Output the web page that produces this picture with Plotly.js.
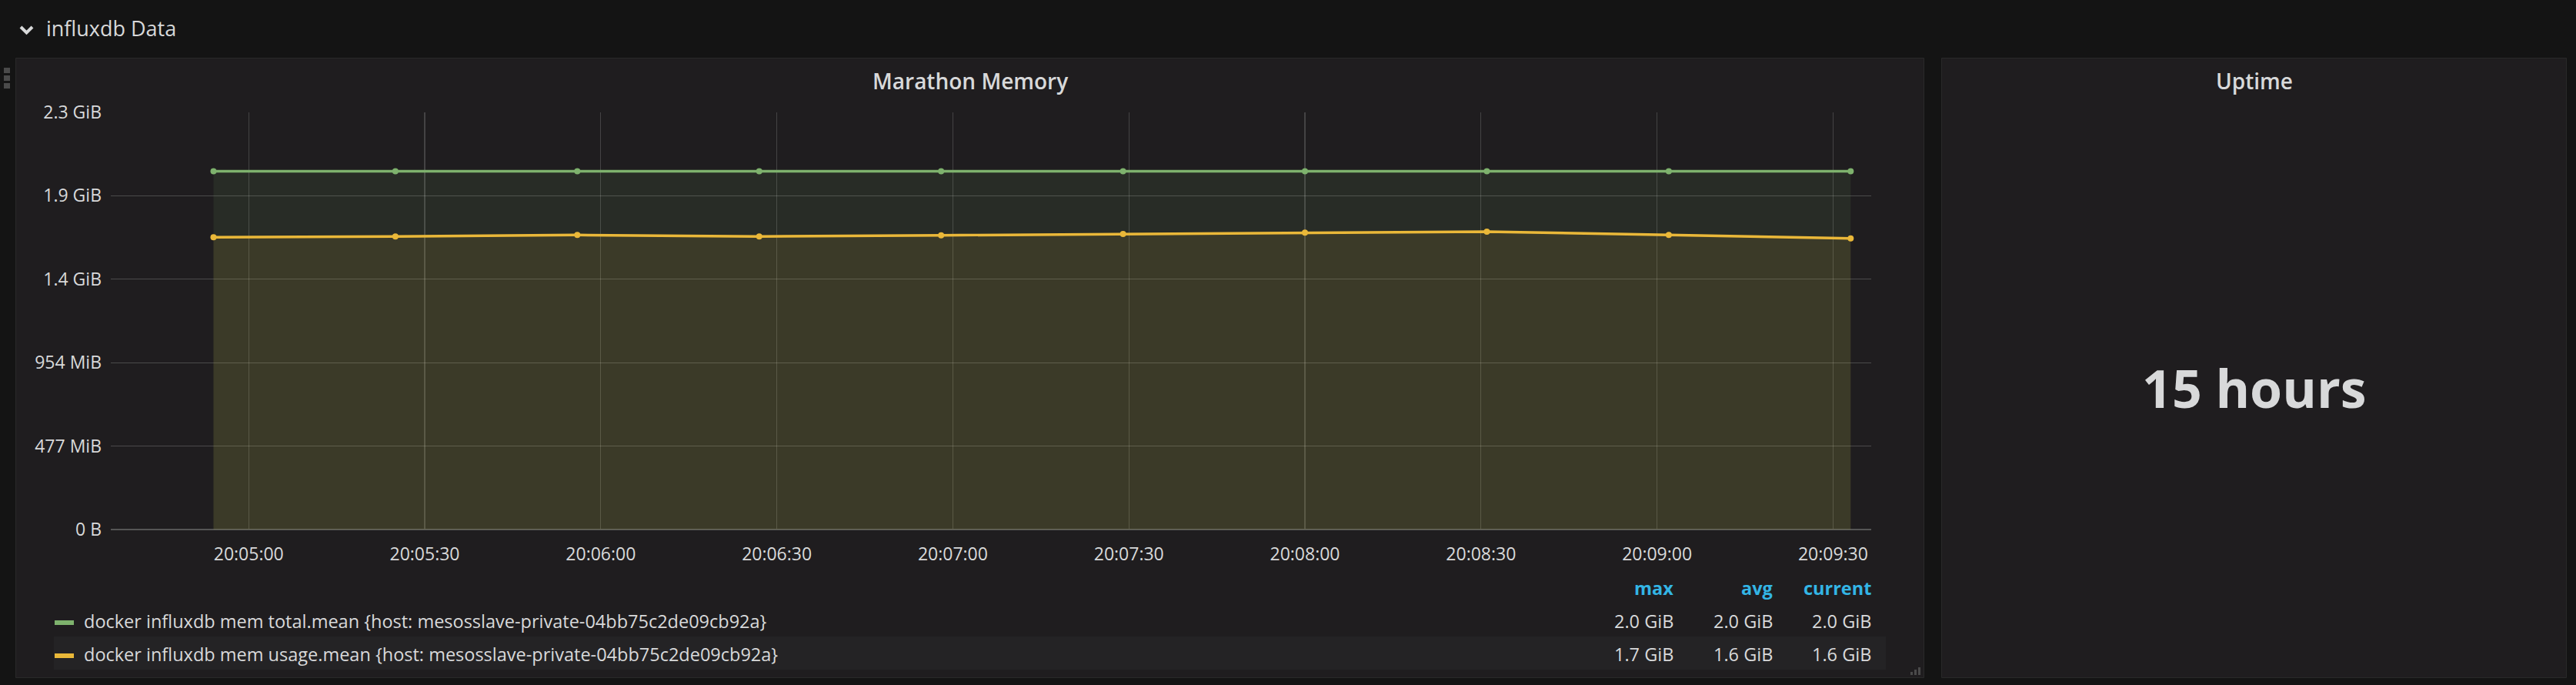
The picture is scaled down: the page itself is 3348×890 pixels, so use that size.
<!DOCTYPE html>
<html>
<head>
<meta charset="utf-8">
<script src="https://cdn.plot.ly/plotly-3.0.1.min.js"></script>
<style>
  html, body { margin: 0; padding: 0; background: #141414; }
  #chart { width: 3348px; height: 890px; }
</style>
</head>
<body>
<div id="chart"></div>
<script>
// ---------- data ----------
const times = [
  '2017-06-01 20:04:54', '2017-06-01 20:05:25', '2017-06-01 20:05:56',
  '2017-06-01 20:06:27', '2017-06-01 20:06:58', '2017-06-01 20:07:29',
  '2017-06-01 20:08:00', '2017-06-01 20:08:31', '2017-06-01 20:09:02',
  '2017-06-01 20:09:33'
];
const memTotal = [2147483648, 2147483648, 2147483648, 2147483648, 2147483648,
                  2147483648, 2147483648, 2147483648, 2147483648, 2147483648];
const memUsage = [1751400000, 1756000000, 1765200000, 1756000000, 1763400000,
                  1771200000, 1779100000, 1785100000, 1765200000, 1744900000];
const seriesNames = [
  'docker influxdb mem total.mean {host: mesosslave-private-04bb75c2de09cb92a}',
  'docker influxdb mem usage.mean {host: mesosslave-private-04bb75c2de09cb92a}'
];
const yTickVals = [0, 5e8, 1e9, 1.5e9, 2e9, 2.5e9];
const yTickText = ['0 B', '477 MiB', '954 MiB', '1.4 GiB', '1.9 GiB', '2.3 GiB'];
const xRange = ['2017-06-01 20:04:36.5', '2017-06-01 20:09:36.5'];
const legendCols = ['max', 'avg', 'current'];
const uptimeText = '15 hours';

// ---------- geometry helpers ----------
const W = 3348, H = 890;
const PL = 144, PR = 2432, PT = 146, PB = 688;
const pw = PR - PL, ph = PB - PT;
const px = x => (x - PL) / pw;
const py = y => (PB - y) / ph;

const TXT = '#d8d9da';
const FONT = 'Open Sans, Noto Sans, sans-serif';
const GREEN = '#7eb26d', YELLOW = '#eab839';

const fmtGiB = v => (v / 1073741824).toFixed(1) + ' GiB';
const stats = arr => [Math.max(...arr), arr.reduce((a, b) => a + b, 0) / arr.length, arr[arr.length - 1]];

const traces = [
  {x: times, y: memTotal, type: 'scatter', mode: 'lines+markers', name: seriesNames[0],
   line: {color: GREEN, width: 3.5}, marker: {color: GREEN, size: 8},
   fill: 'tozeroy', fillcolor: 'rgba(126,178,109,0.1)'},
  {x: times, y: memUsage, type: 'scatter', mode: 'lines+markers', name: seriesNames[1],
   line: {color: YELLOW, width: 3.5}, marker: {color: YELLOW, size: 8},
   fill: 'tozeroy', fillcolor: 'rgba(234,184,57,0.1)'}
];

const shapes = [];
const annotations = [];
function rectPx(x0, y0, x1, y1, fill, line) {
  shapes.push({type: 'rect', xref: 'paper', yref: 'paper', layer: 'below',
    x0: px(x0), x1: px(x1), y0: py(y1), y1: py(y0),
    fillcolor: fill, line: line ? {color: line, width: 1} : {width: 0}});
}
function textPx(x, y, text, size, color, anchor, weight) {
  annotations.push({xref: 'paper', yref: 'paper', x: px(x), y: py(y), text: text,
    showarrow: false, xanchor: anchor || 'center', yanchor: 'middle', borderpad: 0,
    font: {family: FONT, size: size, color: color, weight: weight || 400}});
}

// panels
rectPx(20.5, 75.5, 2500.5, 880.5, '#1f1d1f', '#292929');
rectPx(2523.5, 75.5, 3335.5, 880.5, '#1f1d1f', '#292929');
// legend row band
rectPx(70, 827, 2451, 870, '#242325', null);
// drag handle dots
[88, 98, 108].forEach(y => rectPx(5, y, 13, y + 7, '#4a4a4a', null));
// resize grip
[[2483, 873], [2488, 870], [2493, 867]].forEach(([x, y]) => rectPx(x, y, x + 3, 877, '#4a4a4a', null));
// legend swatches
rectPx(71, 806, 96, 812, GREEN, null);
rectPx(71, 849, 96, 855, YELLOW, null);
// chevron
shapes.push({type: 'path', xref: 'paper', yref: 'paper',
  path: `M ${px(27)} ${py(35)} L ${px(34.5)} ${py(42.5)} L ${px(42)} ${py(35)}`,
  line: {color: TXT, width: 4}});

// texts
textPx(59, 37, 'influxdb Data', 27, TXT, 'left');
textPx(1260.5, 105, 'Marathon Memory', 28, TXT, 'center', 600);
textPx(2929.5, 105, 'Uptime', 28, TXT, 'center', 600);
textPx(2929.5, 503, uptimeText, 68, TXT, 'center', 700);

const colRight = [2176, 2305, 2433];
legendCols.forEach((c, i) => textPx(colRight[i], 764, c, 23.5, '#33b5e5', 'right', 700));
[memTotal, memUsage].forEach((arr, r) => {
  const yy = r === 0 ? 806.5 : 849.5;
  textPx(108, yy, seriesNames[r], 23.5, TXT, 'left');
  stats(arr).forEach((v, i) => textPx(colRight[i], yy, fmtGiB(v), 23.5, TXT, 'right'));
});

const layout = {
  width: W, height: H,
  margin: {l: PL, r: W - PR, t: PT, b: H - PB, pad: 0},
  paper_bgcolor: '#141414', plot_bgcolor: 'rgba(0,0,0,0)',
  showlegend: false, hovermode: false,
  font: {family: FONT, color: TXT, size: 23},
  xaxis: {type: 'date', range: xRange, tick0: '2017-06-01 20:05:00', dtick: 30000,
    tickformat: '%H:%M:%S', showgrid: true, gridcolor: 'rgba(255,255,255,0.17)', gridwidth: 1.3,
    zeroline: false, showline: false, ticks: '', ticklabelstandoff: 16,
    tickfont: {family: FONT, size: 23, color: TXT}},
  yaxis: {range: [0, 2.5e9], tickvals: yTickVals, ticktext: yTickText,
    showgrid: true, gridcolor: 'rgba(255,255,255,0.2)', gridwidth: 1.3,
    zeroline: true, zerolinecolor: '#555555', zerolinewidth: 2, showline: false,
    ticks: '', ticklabelstandoff: 11, tickfont: {family: FONT, size: 23, color: TXT}},
  shapes: shapes, annotations: annotations
};

Plotly.newPlot('chart', traces, layout, {staticPlot: true, displayModeBar: false});
</script>
</body>
</html>
